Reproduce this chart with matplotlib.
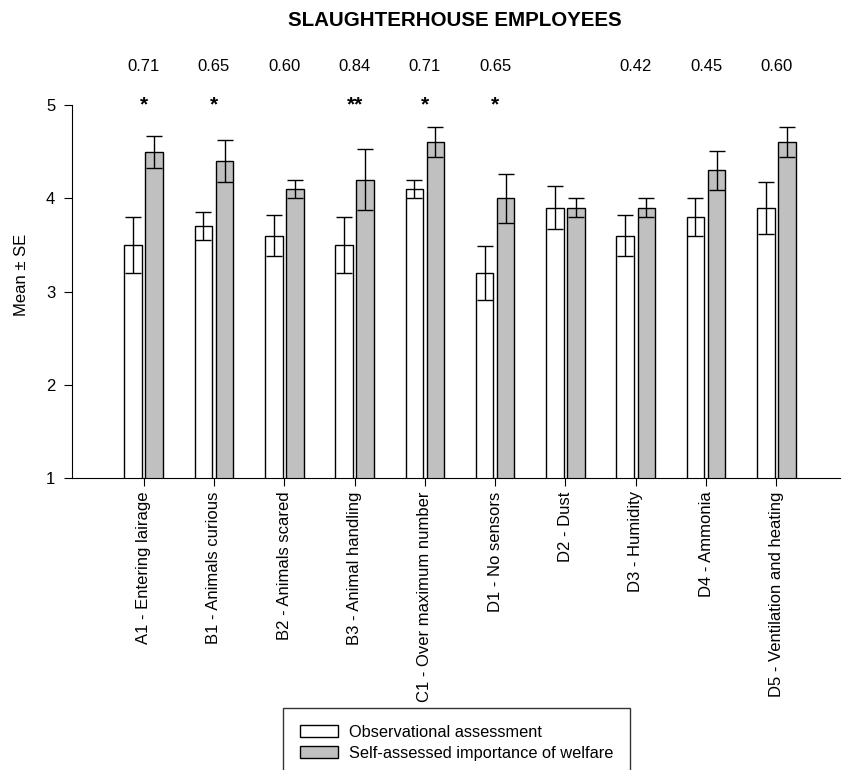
import matplotlib
matplotlib.use("Agg")
import matplotlib.pyplot as plt
import numpy as np

plt.rcParams['font.family'] = ['Liberation Sans', 'DejaVu Sans']

categories = ["A1 - Entering lairage", "B1 - Animals curious", "B2 - Animals scared",
              "B3 - Animal handling", "C1 - Over maximum number", "D1 - No sensors",
              "D2 - Dust", "D3 - Humidity", "D4 - Ammonia", "D5 - Ventilation and heating"]
observed_mean = [3.5, 3.7, 3.6, 3.5, 4.1, 3.2, 3.9, 3.6, 3.8, 3.9]
observed_se = [0.30, 0.15, 0.22, 0.30, 0.10, 0.29, 0.23, 0.22, 0.20, 0.28]
self_mean = [4.5, 4.4, 4.1, 4.2, 4.6, 4.0, 3.9, 3.9, 4.3, 4.6]
self_se = [0.17, 0.22, 0.10, 0.33, 0.16, 0.26, 0.10, 0.10, 0.21, 0.16]
coefficients = ["0.71", "0.65", "0.60", "0.84", "0.71", "0.65", "", "0.42", "0.45", "0.60"]
significance = ["*", "*", "", "**", "*", "*", "", "", "", ""]

fig = plt.figure(figsize=(8.51, 7.70), dpi=100)
ax = fig.add_axes([0.0846, 0.379, 0.902, 0.4846])

x = np.arange(len(categories))
w = 0.25
off = 0.15
err_kw = dict(ecolor="black", elinewidth=1.0, capsize=6, capthick=1.0)
ax.bar(x - off, observed_mean, width=w, bottom=0, color="white", edgecolor="black",
       linewidth=1.0, yerr=observed_se, error_kw=err_kw, label="Observational assessment")
ax.bar(x + off, self_mean, width=w, bottom=0, color="#c0c0c0", edgecolor="black",
       linewidth=1.0, yerr=self_se, error_kw=err_kw,
       label="Self-assessed importance of welfare")

ax.set_ylim(1, 5)
ax.set_xlim(-1.02, 9.9)
ax.set_yticks([1, 2, 3, 4, 5])
ax.set_xticks(x)
ax.set_xticklabels(categories, rotation=90, fontsize=12)
ax.tick_params(axis="y", labelsize=12, direction="out", length=6, pad=6)
ax.tick_params(axis="x", direction="out", length=6)
ax.spines["top"].set_visible(False)
ax.spines["right"].set_visible(False)
fig.text(0.025, 1 - 275 / 770, "Mean ± SE", rotation=90, ha="center", va="center",
         fontsize=12)

for xi, c, s in zip(x, coefficients, significance):
    if c:
        ax.text(xi, 1.102, c, transform=ax.get_xaxis_transform(), ha="center",
                va="center", fontsize=12)
    if s:
        ax.text(xi, 1.0, s, transform=ax.get_xaxis_transform(), ha="center",
                va="center", fontsize=15, fontweight="bold")

fig.text(0.535, 0.974, "SLAUGHTERHOUSE EMPLOYEES", ha="center", va="center",
         fontsize=14.8, fontweight="bold")

leg = fig.legend(loc="upper left", bbox_to_anchor=(283 / 851, 1 - 708 / 770),
                 borderaxespad=0, frameon=True, fancybox=False, edgecolor="black",
                 handlelength=2.3, handleheight=0.75, handletextpad=0.67,
                 borderpad=1.05, labelspacing=0.36, fontsize=11.8)
leg.get_frame().set_linewidth(1.0)

fig.savefig("out.png", dpi=100)
